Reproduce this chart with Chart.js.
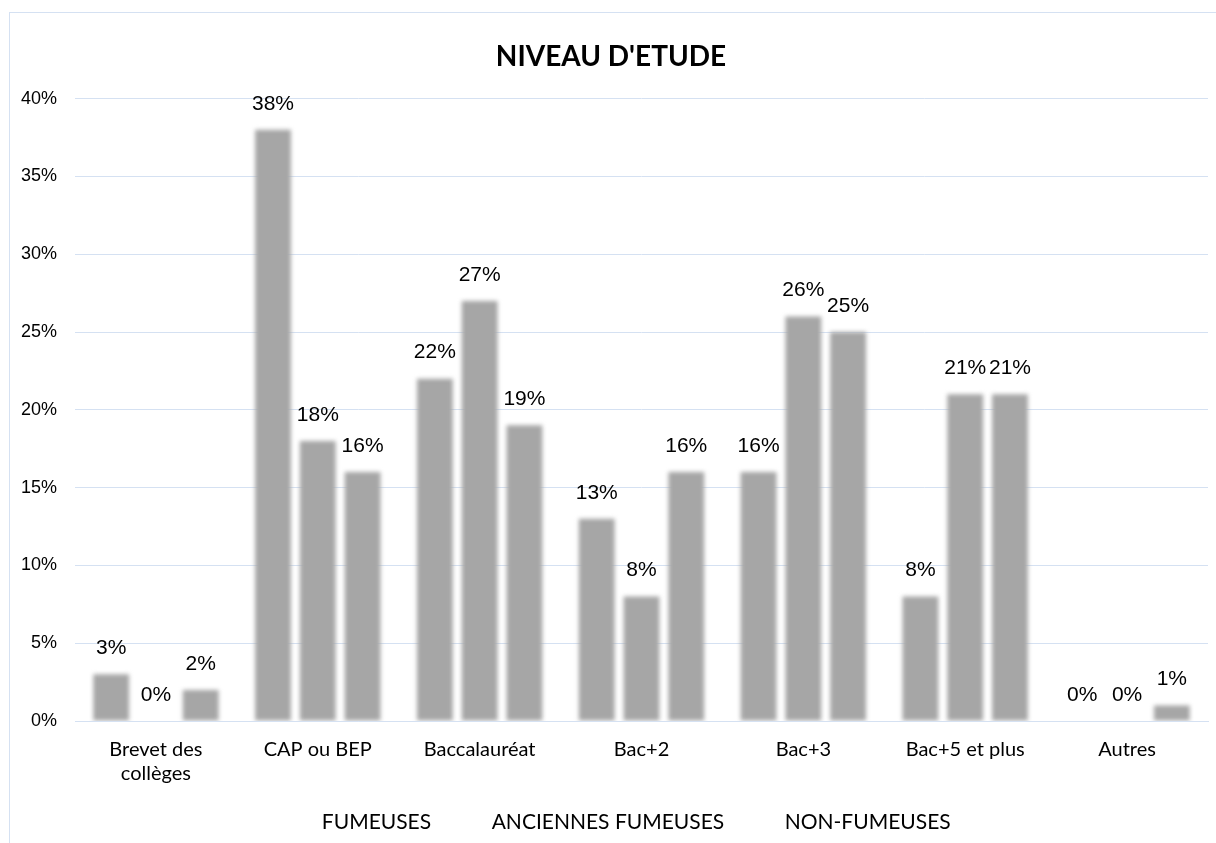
<!DOCTYPE html>
<html>
<head>
<meta charset="utf-8">
<script src="https://cdn.jsdelivr.net/npm/chart.js@4"></script>
<style>
  html, body { margin: 0; padding: 0; background: #fff; }
  #wrap { width: 1216px; height: 843px; position: relative; }
</style>
</head>
<body>
<div id="wrap"><canvas id="barChart" width="1216" height="843"></canvas></div>
<script>
    const categories = [
        ['Brevet des', 'collèges'],
        'CAP ou BEP',
        'Baccalauréat',
        'Bac+2',
        'Bac+3',
        'Bac+5 et plus',
        'Autres'
    ];
    const seriesNames = ['FUMEUSES', 'ANCIENNES FUMEUSES', 'NON-FUMEUSES'];
    const fumeuses = [3, 38, 22, 13, 16, 8, 0];
    const anciennes = [0, 18, 27, 8, 26, 21, 0];
    const nonFumeuses = [2, 16, 19, 16, 25, 21, 1];
    const yTicks = [0, 5, 10, 15, 20, 25, 30, 35, 40];

    const barGrey = '#a6a6a6';
    const textFont = 'Lato, "Open Sans", sans-serif';
    const numFont = '"Liberation Sans", Arial, sans-serif';

    // light frame around the chart, like the office chart border
    const framePlugin = {
        id: 'frame',
        beforeDraw(chart) {
            const c = chart.ctx;
            c.save();
            c.strokeStyle = '#d5e1f2';
            c.lineWidth = 1;
            c.strokeRect(9.5, 12.5, 1400, 1000);
            c.restore();
        }
    };

    // soft edges on the bars
    const blurPlugin = {
        id: 'blurBars',
        beforeDatasetsDraw(chart) {
            chart.ctx.save();
            chart.ctx.filter = 'blur(2px)';
        },
        afterDatasetsDraw(chart) {
            chart.ctx.restore();
        }
    };

    // percentage labels above each bar
    const labelPlugin = {
        id: 'valueLabels',
        afterDraw(chart) {
            const c = chart.ctx;
            c.save();
            c.font = '21px ' + numFont;
            c.fillStyle = '#000';
            c.textAlign = 'center';
            c.textBaseline = 'middle';
            chart.data.datasets.forEach((ds, i) => {
                chart.getDatasetMeta(i).data.forEach((bar, j) => {
                    c.fillText(ds.data[j] + '%', bar.x, bar.y - 26);
                });
            });
            c.restore();
        }
    };

    const ctx = document.getElementById('barChart').getContext('2d');
    const barChart = new Chart(ctx, {
        type: 'bar',
        data: {
            labels: categories,
            datasets: [
                { label: seriesNames[0], data: fumeuses, backgroundColor: barGrey },
                { label: seriesNames[1], data: anciennes, backgroundColor: barGrey },
                { label: seriesNames[2], data: nonFumeuses, backgroundColor: barGrey }
            ]
        },
        options: {
            responsive: false,
            animation: false,
            devicePixelRatio: 1,
            categoryPercentage: 0.83,
            barPercentage: 0.8,
            layout: { padding: { left: 14, right: 8, top: 0, bottom: 0 } },
            plugins: {
                title: {
                    display: true,
                    text: "NIVEAU D'ETUDE",
                    color: '#000',
                    font: { family: textFont, size: 28, weight: 'bold' },
                    padding: { top: 40, bottom: 25 }
                },
                legend: {
                    position: 'bottom',
                    labels: {
                        boxWidth: 40,
                        boxHeight: 0,
                        padding: 10,
                        color: '#000',
                        font: { family: textFont, size: 21 },
                        generateLabels(chart) {
                            return chart.data.datasets.map((ds, i) => ({
                                text: ds.label,
                                fillStyle: 'rgba(0,0,0,0)',
                                strokeStyle: 'rgba(0,0,0,0)',
                                lineWidth: 0,
                                fontColor: '#000',
                                datasetIndex: i
                            }));
                        }
                    }
                },
                tooltip: { enabled: false }
            },
            scales: {
                x: {
                    afterFit(scale) { scale.height = 81; },
                    grid: { display: false, drawTicks: false },
                    border: { display: true, color: '#d5e1f2' },
                    ticks: {
                        color: '#000',
                        padding: 17,
                        maxRotation: 0,
                        autoSkip: false,
                        font: { family: textFont, size: 20, lineHeight: 1.2 }
                    }
                },
                y: {
                    min: 0,
                    max: 40,
                    afterBuildTicks(scale) {
                        scale.ticks = yTicks.map(v => ({ value: v }));
                    },
                    afterFit(scale) { scale.width = 61; },
                    grid: { color: '#d5e1f2', drawTicks: false },
                    border: { display: false },
                    ticks: {
                        color: '#000',
                        padding: 18,
                        font: { family: numFont, size: 18 },
                        callback: v => v + '%'
                    }
                }
            }
        },
        plugins: [framePlugin, blurPlugin, labelPlugin]
    });
</script>
</body>
</html>
